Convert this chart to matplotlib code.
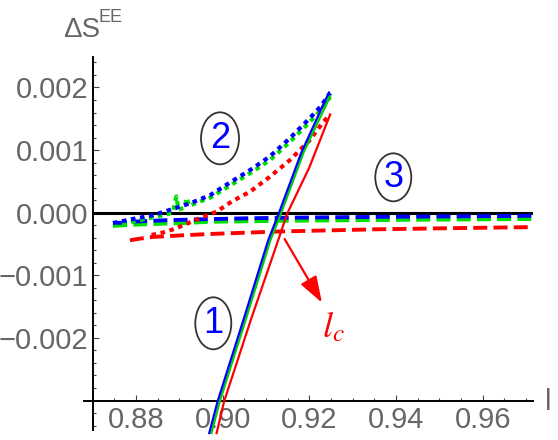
import numpy as np
import matplotlib
matplotlib.use('Agg')
import matplotlib.pyplot as plt
from matplotlib.patches import Ellipse

plt.rcParams['font.family'] = ['Liberation Sans Narrow', 'Liberation Sans', 'DejaVu Sans']
plt.rcParams['mathtext.fontset'] = 'stix'

# curve group 1 (solid): steep lines
solid_blue_x = [0.8969, 0.8988, 0.9048, 0.9105, 0.9130, 0.9182, 0.9245]
solid_blue_y = [-0.00352, -0.00302, -0.00171, -0.00044, 0.0, 0.00097, 0.00192]
solid_green_x = [0.8974, 0.8993, 0.9053, 0.9110, 0.9135, 0.9187, 0.9248]
solid_green_y = [-0.00352, -0.00302, -0.00171, -0.00044, 0.0, 0.00097, 0.00186]
solid_red_x = [0.8986, 0.9003, 0.9065, 0.9128, 0.9149, 0.9199, 0.9248]
solid_red_y = [-0.00352, -0.00302, -0.00171, -0.00044, -0.00001, 0.00071, 0.00157]

# curve group 2 (dotted)
dot_blue_x = [0.8747, 0.8800, 0.8840, 0.8925, 0.8971, 0.9021, 0.9063, 0.9109, 0.9155, 0.9201, 0.9225, 0.9248]
dot_blue_y = [-0.000165, -0.00009, -0.00004, 0.00015, 0.00028, 0.00050, 0.00068, 0.00090, 0.00119, 0.00151, 0.00169, 0.00191]
dot_green_x = [0.8747, 0.8800, 0.8850, 0.8885, 0.8893, 0.8898, 0.8912, 0.8917, 0.8922, 0.8971,
               0.9021, 0.9063, 0.9109, 0.9155, 0.9201, 0.9225, 0.9248]
dot_green_y = [-0.00021, -0.00013, -0.00006, 0.0, 0.00026, 0.00005, 0.00008, 0.00024, 0.00011, 0.00024,
               0.00045, 0.00063, 0.00084, 0.00113, 0.00145, 0.00163, 0.00185]
dot_red_x = [0.8836, 0.8871, 0.8901, 0.8955, 0.8986, 0.9021, 0.9063, 0.9109, 0.9155, 0.9201, 0.9232, 0.9248]
dot_red_y = [-0.000356, -0.000303, -0.000224, -0.000064, 0.000016, 0.00018, 0.000335, 0.000575, 0.00084, 0.00116, 0.00145, 0.00157]

# curve group 3 (dashed): nearly flat
dash_blue_x = [0.8747, 0.880, 0.887, 0.895, 0.905, 0.915, 0.930, 0.950, 0.9716]
dash_blue_y = [-0.00017, -0.00014, -0.00012, -0.000105, -0.00009, -0.00008, -0.00007, -0.00006, -0.00005]
dash_green_x = [0.8747, 0.880, 0.891, 0.897, 0.913, 0.930, 0.950, 0.9716]
dash_green_y = [-0.00021, -0.00019, -0.000165, -0.000145, -0.00013, -0.00012, -0.00011, -0.0001]
dash_red_x = [0.8786, 0.8832, 0.891, 0.897, 0.913, 0.9355, 0.955, 0.9716]
dash_red_y = [-0.00044, -0.00039, -0.00036, -0.00034, -0.00030, -0.000265, -0.000245, -0.00023]

xticks = [0.88, 0.90, 0.92, 0.94, 0.96]
yticks = [-0.002, -0.001, 0.0, 0.001, 0.002]

fig = plt.figure(figsize=(5.58, 4.4), dpi=100)
ax = fig.add_axes([84 / 558, 1 - 436 / 440, 449 / 558, 379 / 440])
xlim = (0.868005, 0.971580)
ylim = (-0.003567, 0.0024872)
ax.set_xlim(*xlim)
ax.set_ylim(*ylim)

ax.spines['top'].set_visible(False)
ax.spines['right'].set_visible(False)
ax.spines['left'].set_position(('data', 0.8701))
ax.spines['bottom'].set_position(('data', -0.003))
ax.spines['left'].set_bounds(-0.00347, ylim[1])
for s in ('left', 'bottom'):
    ax.spines[s].set_linewidth(1.4)
    ax.spines[s].set_color('black')

ax.set_xticks(xticks)
ax.set_xticklabels([f'{t:.2f}' for t in xticks])
ax.set_xticks(np.arange(0.875, 0.971, 0.005), minor=True)
ax.set_yticks(yticks)
ax.set_yticklabels([f'{t:.3f}'.replace('-', '\u2212') for t in yticks])
ax.set_yticks(np.arange(-0.0034, 0.00245, 0.0002), minor=True)
ax.tick_params(which='both', direction='in', colors='#444444', labelcolor='#666666',
               labelsize=21, width=0.8)
ax.tick_params(which='major', length=4.5)
ax.tick_params(which='minor', length=2.5)
ax.tick_params(axis='y', pad=3.5)
ax.tick_params(axis='x', pad=4)

# zero line from the y axis to the right edge
ax.axhline(0, xmin=(0.8701 - xlim[0]) / (xlim[1] - xlim[0]), xmax=1, color='black', lw=2.2, zorder=2)

dash = (0, (3.6, 1.6))
dot = (0, (1.1, 1.1))
for x, y, c in [(dash_red_x, dash_red_y, 'red'), (dash_green_x, dash_green_y, '#00e000'),
                (dash_blue_x, dash_blue_y, 'blue')]:
    ax.plot(x, y, color=c, lw=2.8, linestyle=dash, zorder=3)
for x, y, c in [(dot_red_x, dot_red_y, 'red'), (dot_green_x, dot_green_y, '#00e000'),
                (dot_blue_x, dot_blue_y, 'blue')]:
    ax.plot(x, y, color=c, lw=3.0, linestyle=dot, zorder=3)
for x, y, c in [(solid_red_x, solid_red_y, 'red'), (solid_green_x, solid_green_y, '#00d000'),
                (solid_blue_x, solid_blue_y, 'blue')]:
    ax.plot(x, y, color=c, lw=1.6, zorder=4, clip_on=False)

# circled labels
px_x = 1 / 4335
px_y = 1 / 62600
for num, cx, cy, w, h in [('1', 0.89783, -0.001767, 36, 52), ('2', 0.89938, 0.001188, 38, 52),
                          ('3', 0.93935, 0.000565, 36, 48)]:
    ax.add_patch(Ellipse((cx, cy), w * px_x, h * px_y, fill=False, ec='#333333', lw=1.3, zorder=5))
    ax.text(cx, cy, num, color='blue', fontsize=26, ha='center', va='center', zorder=6)

# critical length arrow
ax.annotate('', xy=(0.92321, -0.001474), xytext=(0.91397, -0.000383),
            arrowprops=dict(arrowstyle='-|>,head_length=1.6,head_width=0.55', color='red', lw=1.6))
ax.text(0.92544, -0.00184, r'$l_c$', color='red', fontsize=26, ha='center', va='center')

# axis labels
fig.text(63 / 558, 1 - 37 / 440, '\u0394S', color='#666666', fontsize=20, ha='left', va='baseline')
fig.text(99 / 558, 1 - 22 / 440, 'EE', color='#666666', fontsize=13, ha='left', va='baseline')
fig.text(545 / 558, 1 - 410 / 440, 'l', color='#666666', fontsize=21, ha='left', va='baseline')

fig.savefig('out.png', dpi=100)
